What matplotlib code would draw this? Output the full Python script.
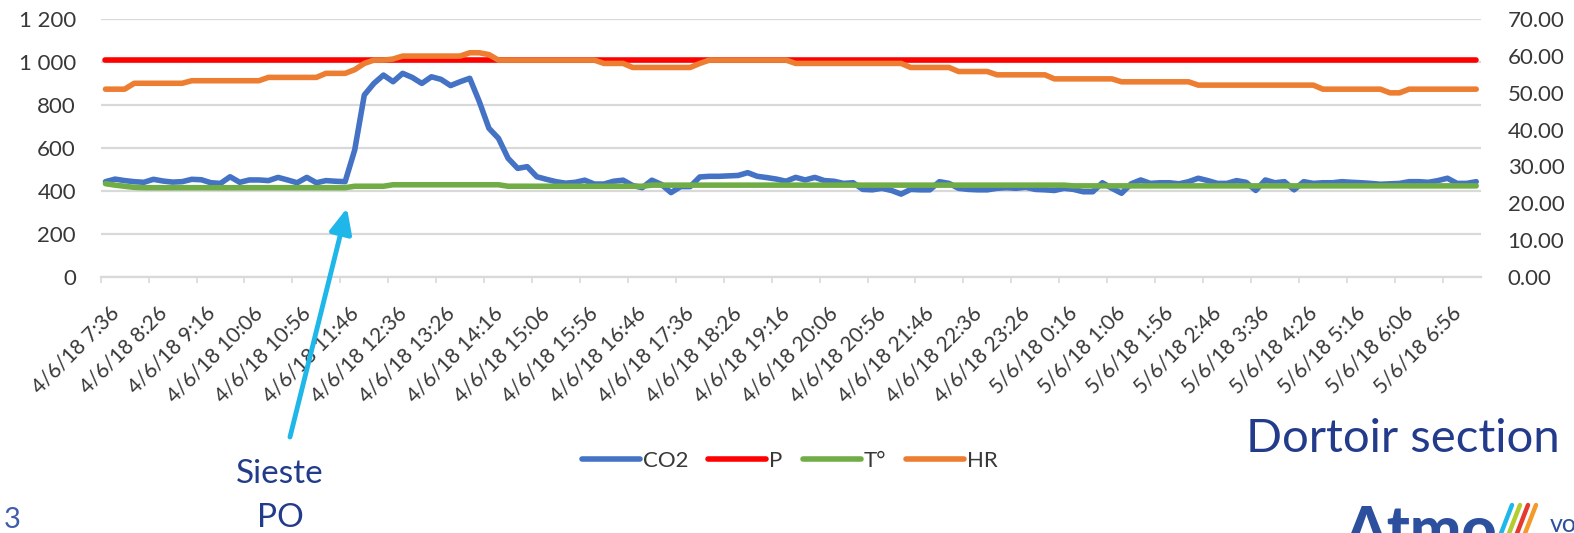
import matplotlib
matplotlib.use("Agg")
import matplotlib.pyplot as plt
import matplotlib.transforms as mtransforms
from matplotlib.patches import FancyArrowPatch
from matplotlib.lines import Line2D
from matplotlib.ticker import FuncFormatter
import numpy as np

plt.rcParams['font.family'] = ['Lato', 'DejaVu Sans']

# ---------------- data ----------------
tick_labels = ['4/6/18 7:36', '4/6/18 8:26', '4/6/18 9:16', '4/6/18 10:06', '4/6/18 10:56',
               '4/6/18 11:46', '4/6/18 12:36', '4/6/18 13:26', '4/6/18 14:16', '4/6/18 15:06',
               '4/6/18 15:56', '4/6/18 16:46', '4/6/18 17:36', '4/6/18 18:26', '4/6/18 19:16',
               '4/6/18 20:06', '4/6/18 20:56', '4/6/18 21:46', '4/6/18 22:36', '4/6/18 23:26',
               '5/6/18 0:16', '5/6/18 1:06', '5/6/18 1:56', '5/6/18 2:46', '5/6/18 3:36',
               '5/6/18 4:26', '5/6/18 5:16', '5/6/18 6:06', '5/6/18 6:56']

co2 = [443, 455, 448, 443, 440, 454, 446, 441, 443, 454, 452, 438, 435, 466, 440, 451, 451, 448, 463, 451,
       438, 463, 438, 448, 445, 443, 591, 847, 901, 940, 909, 948, 929, 901, 932, 920, 891, 909, 925, 816,
       692, 645, 552, 505, 513, 466, 454, 443, 436, 440, 450, 432, 432, 445, 450, 425, 415, 450, 430, 392,
       420, 420, 465, 468, 468, 470, 472, 485, 468, 462, 455, 445, 463, 451, 463, 448, 445, 435, 438, 407,
       405, 412, 402, 385, 407, 405, 405, 443, 435, 412, 407, 405, 405, 412, 415, 412, 417, 407, 405, 402,
       412, 407, 396, 396, 438, 412, 389, 433, 451, 435, 438, 438, 433, 443, 459, 448, 435, 435, 448, 440,
       402, 451, 438, 443, 405, 443, 435, 438, 438, 443, 440, 438, 435, 431, 433, 435, 443, 443, 440, 448,
       459, 435, 435, 443]

pressure = [1010, 1010, 1010, 1010, 1010, 1010, 1010, 1010, 1010, 1010, 1010, 1010, 1010, 1010, 1010, 1010,
            1010, 1010, 1010, 1010, 1010, 1010, 1010, 1010, 1010, 1010, 1010, 1010, 1010, 1010, 1010, 1010,
            1010, 1010, 1010, 1010, 1010, 1010, 1010, 1010, 1010, 1010, 1010, 1010, 1010, 1010, 1010, 1010,
            1010, 1010, 1010, 1010, 1010, 1010, 1010, 1010, 1010, 1010, 1010, 1010, 1010, 1010, 1010, 1010,
            1010, 1010, 1010, 1010, 1010, 1010, 1010, 1010, 1010, 1010, 1010, 1010, 1010, 1010, 1010, 1010,
            1010, 1010, 1010, 1010, 1010, 1010, 1010, 1010, 1010, 1010, 1010, 1010, 1010, 1010, 1010, 1010,
            1010, 1010, 1010, 1010, 1010, 1010, 1010, 1010, 1010, 1010, 1010, 1010, 1010, 1010, 1010, 1010,
            1010, 1010, 1010, 1010, 1010, 1010, 1010, 1010, 1010, 1010, 1010, 1010, 1010, 1010, 1010, 1010,
            1010, 1010, 1010, 1010, 1010, 1010, 1010, 1010, 1010, 1010, 1010, 1010, 1010, 1010, 1010, 1010]

temperature = [25.3, 24.9, 24.6, 24.3, 24.2, 24.2, 24.2, 24.2, 24.2, 24.2, 24.2, 24.2, 24.2, 24.2, 24.2, 24.2,
               24.2, 24.2, 24.2, 24.2, 24.2, 24.2, 24.2, 24.2, 24.2, 24.2, 24.6, 24.6, 24.6, 24.6, 25.0, 25.0,
               25.0, 25.0, 25.0, 25.0, 25.0, 25.0, 25.0, 25.0, 25.0, 25.0, 24.6, 24.6, 24.6, 24.6, 24.6, 24.6,
               24.6, 24.6, 24.6, 24.6, 24.6, 24.6, 24.6, 24.6, 24.6, 24.9, 24.9, 24.9, 24.9, 24.9, 24.9, 24.9,
               24.9, 24.9, 24.9, 24.9, 24.9, 24.9, 24.9, 24.9, 24.9, 24.9, 24.9, 24.9, 24.9, 24.9, 24.9, 24.9,
               24.9, 24.9, 24.9, 24.9, 24.9, 24.9, 24.9, 24.9, 24.9, 24.9, 24.9, 24.9, 24.9, 24.9, 24.9, 24.9,
               24.9, 24.9, 24.9, 24.9, 24.9, 24.7, 24.7, 24.7, 24.7, 24.7, 24.7, 24.7, 24.7, 24.7, 24.7, 24.7,
               24.7, 24.7, 24.7, 24.7, 24.7, 24.7, 24.7, 24.7, 24.7, 24.7, 24.7, 24.7, 24.7, 24.7, 24.7, 24.7,
               24.7, 24.7, 24.7, 24.7, 24.7, 24.7, 24.7, 24.7, 24.7, 24.7, 24.7, 24.7, 24.7, 24.7, 24.7, 24.7]

humidity = [51.0, 51.0, 51.0, 52.6, 52.6, 52.6, 52.6, 52.6, 52.6, 53.3, 53.3, 53.3, 53.3, 53.3, 53.3, 53.3,
            53.3, 54.2, 54.2, 54.2, 54.2, 54.2, 54.2, 55.3, 55.3, 55.3, 56.3, 58.0, 58.9, 58.9, 59.2, 60.0,
            60.0, 60.0, 60.0, 60.0, 60.0, 60.0, 60.9, 60.9, 60.4, 58.9, 58.9, 58.9, 58.9, 58.9, 58.9, 58.9,
            58.9, 58.9, 58.9, 58.9, 58.0, 58.0, 58.0, 56.9, 56.9, 56.9, 56.9, 56.9, 56.9, 56.9, 58.0, 58.9,
            58.9, 58.9, 58.9, 58.9, 58.9, 58.9, 58.9, 58.9, 58.0, 58.0, 58.0, 58.0, 58.0, 58.0, 58.0, 58.0,
            58.0, 58.0, 58.0, 58.0, 56.9, 56.9, 56.9, 56.9, 56.9, 55.8, 55.8, 55.8, 55.8, 54.9, 54.9, 54.9,
            54.9, 54.9, 54.9, 53.8, 53.8, 53.8, 53.8, 53.8, 53.8, 53.8, 53.0, 53.0, 53.0, 53.0, 53.0, 53.0,
            53.0, 53.0, 52.1, 52.1, 52.1, 52.1, 52.1, 52.1, 52.1, 52.1, 52.1, 52.1, 52.1, 52.1, 52.1, 51.0,
            51.0, 51.0, 51.0, 51.0, 51.0, 51.0, 50.0, 50.0, 51.0, 51.0, 51.0, 51.0, 51.0, 51.0, 51.0, 51.0]

series_names = ['CO2', 'P', 'T°', 'HR']
label_every = 5

# ---------------- figure ----------------
W, H = 1574, 533
fig = plt.figure(figsize=(W / 100, H / 100), dpi=100)
left, right, top, bottom = 100.7, 1481.0, 19.3, 276.7
ax = fig.add_axes([left / W, 1 - bottom / H, (right - left) / W, (bottom - top) / H])
ax2 = ax.twinx()

text_col = '#383838'
grid_col = '#D9D9D9'
lw = 4.0
kw = dict(lw=lw, solid_capstyle='round', solid_joinstyle='round')

x = np.arange(len(co2))
l1, = ax.plot(x, co2, color='#4472C4', label=series_names[0], **kw)
l2, = ax.plot(x, pressure, color='#FF0000', label=series_names[1], **kw)
l3, = ax2.plot(x, temperature, color='#70AD47', label=series_names[2], **kw)
l4, = ax2.plot(x, humidity, color='#ED7D31', label=series_names[3], **kw)

ax.set_xlim(-0.5, len(co2) - 0.5)
ax.set_ylim(0, 1200)
ax2.set_ylim(0, 70)
ax.set_yticks(np.arange(0, 1201, 200))
ax2.set_yticks(np.arange(0, 71, 10))
ax.yaxis.set_major_formatter(FuncFormatter(lambda v, _: f"{int(round(v)):,}".replace(",", " ")))
ax2.yaxis.set_major_formatter(FuncFormatter(lambda v, _: f"{v:.2f}"))

ax.grid(axis='y', color=grid_col, lw=1.6)
ax.set_axisbelow(True)
for s in ['top', 'left', 'right']:
    ax.spines[s].set_visible(False)
    ax2.spines[s].set_visible(False)
ax2.spines['bottom'].set_visible(False)
ax.spines['bottom'].set_color(grid_col)
ax.spines['bottom'].set_linewidth(1.6)

tick_pos = np.arange(len(tick_labels)) * label_every - 0.5
ax.set_xticks(tick_pos)
ax.set_xticklabels(tick_labels, rotation=45, ha='right', va='center',
                   rotation_mode='anchor', fontsize=15, color=text_col)
ax.tick_params(axis='x', length=4.3, width=1.2, color=grid_col, pad=19.7)
ax.tick_params(axis='y', length=0, pad=17.8, labelsize=16, labelcolor=text_col)
ax2.tick_params(axis='y', length=0, pad=19.2, labelsize=16, labelcolor=text_col)

offset = mtransforms.ScaledTranslation(15 / 100, 0, fig.dpi_scale_trans)
for lab in ax.get_xticklabels():
    lab.set_transform(lab.get_transform() + offset)

# legend
fig.legend(handles=[l1, l2, l3, l4], loc='center', bbox_to_anchor=(790 / W, 1 - 461 / H),
           ncol=4, frameon=False, fontsize=16, handlelength=2.6, handletextpad=0.15,
           columnspacing=0.9, labelcolor=text_col)

# annotations
blue_txt = '#233B8B'
arrow = FancyArrowPatch(posA=(290 / W, 1 - 437 / H), posB=(347 / W, 1 - 208 / H),
                        transform=fig.transFigure, arrowstyle='-|>,head_length=1.0,head_width=0.45',
                        mutation_scale=15, color='#1FB6E9', lw=3.5, shrinkA=0, shrinkB=0)
fig.add_artist(arrow)
fig.text(280 / W, 1 - 483 / H, 'Sieste', ha='center', va='baseline', fontsize=24, color=blue_txt)
fig.text(280 / W, 1 - 527 / H, 'PO', ha='center', va='baseline', fontsize=24, color=blue_txt)
fig.text(1560 / W, 1 - 452 / H, 'Dortoir section', ha='right', va='baseline', fontsize=34, color=blue_txt)
fig.text(4 / W, 1 - 532.5 / H, '3', ha='left', va='bottom', fontsize=21, color='#3F5DAA')

# logo (partially cut at the bottom, as in the source slide)
fig.text(1345 / W, 1 - 550 / H, 'Atmo', ha='left', va='baseline', fontsize=44,
         fontweight='black', color='#2C4F9E')
for (x0, c) in [(1512, '#1FB6E9'), (1520, '#B5CC2E'), (1528, '#E53A2F'), (1536, '#F39A2B')]:
    fig.add_artist(Line2D([x0 / W, (x0 - 12) / W], [1 - 505 / H, 1 - 536 / H], transform=fig.transFigure,
                          color=c, lw=3.2, solid_capstyle='round'))
fig.text(1550 / W, 1 - 532 / H, 'vo', ha='left', va='baseline', fontsize=18, color='#2C4F9E')

fig.savefig('out.png', dpi=100)
